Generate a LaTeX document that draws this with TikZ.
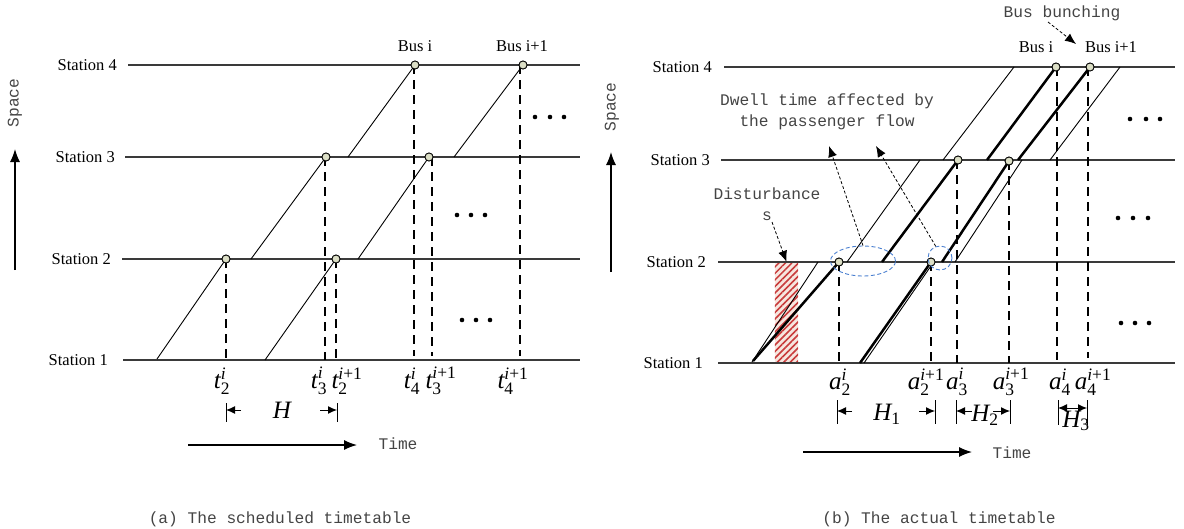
\RequirePackage{fix-cm}
\documentclass[tikz,border=0pt]{standalone}
\usepackage{amsmath}
\usepackage{fontspec}
\setmainfont{Liberation Serif}
\newfontfamily\monof{Liberation Mono}
\usetikzlibrary{arrows.meta,patterns.meta,shapes.geometric}
\definecolor{stopfill}{HTML}{DCDFC6}
\definecolor{linegray}{HTML}{3A3A3A}
\definecolor{txtgray}{HTML}{444444}
\definecolor{ellblue}{HTML}{4A7FD0}
\definecolor{hatchred}{HTML}{C83A3A}
\definecolor{hatchbg}{HTML}{F6E6DF}
\newcommand\lab[3]{$\textit{#1}_{\textup{#2}}^{#3}$}
\begin{document}
\begin{tikzpicture}[x=1pt,y=-1pt,
 stationline/.style={draw=linegray,line width=1.2pt},
 stalabel/.style={anchor=east,font=\fontsize{16.5}{18}\selectfont,inner sep=0pt},
 buslabel/.style={font=\fontsize{16.5}{18}\selectfont,inner sep=0pt},
 monolabel/.style={font=\monof\fontsize{16.2}{21}\selectfont,text=txtgray,inner sep=0pt},
 stopc/.style={circle,draw=black,line width=0.8pt,fill=stopfill,minimum size=8pt,inner sep=0pt},
 sched/.style={draw=black,line width=0.9pt},
 actual/.style={draw=black,line width=2.5pt},
 vdash/.style={draw=black,line width=1.8pt,dash pattern=on 9pt off 6pt},
 mlab/.style={font=\fontsize{25}{27}\selectfont,inner sep=0pt},
 tickl/.style={draw=black,line width=1pt},
 harrow/.style={draw=black,line width=1pt,-{Latex[length=9pt,width=8pt]}},
 bigarrow/.style={draw=black,line width=1.3pt,-{Latex[length=13pt,width=10pt]}},
 dasharrow/.style={draw=black,line width=0.8pt,dash pattern=on 3pt off 2pt,-{Latex[length=11pt,width=9pt]}},
 ell/.style={draw=ellblue,line width=0.9pt,dash pattern=on 4pt off 2.5pt,inner sep=0pt},
 dotc/.style={fill=black}
]
\useasboundingbox (0,0) rectangle (1184,528);

%% ================= LEFT PANEL =================
\node[stalabel] (LS4) at (117,65) {Station 4};
\node[stalabel] (LS3) at (115,157) {Station 3};
\node[stalabel] (LS2) at (111,259) {Station 2};
\node[stalabel] (LS1) at (108,360) {Station 1};
\coordinate (L4a) at (128,65);  \coordinate (L4b) at (580,65);
\coordinate (L3a) at (125,157); \coordinate (L3b) at (580,157);
\coordinate (L2a) at (122,259); \coordinate (L2b) at (580,259);
\coordinate (L1a) at (123,360); \coordinate (L1b) at (580,360);
\draw[stationline] (L4a) -- (L4b);
\draw[stationline] (L3a) -- (L3b);
\draw[stationline] (L2a) -- (L2b);
\draw[stationline] (L1a) -- (L1b);

\coordinate (Lb1s) at (157,359);
\coordinate (Lb2s) at (251,259);
\coordinate (Lb3s) at (348,157);
\coordinate (Lc1s) at (265,360);
\coordinate (Lc2s) at (358,259);
\coordinate (Lc3s) at (454,157);
\coordinate (Ld1) at (226,360);
\coordinate (Ld2) at (325,360);
\coordinate (Ld3) at (336,360);
\coordinate (Ld4) at (414,356);
\coordinate (Ld5) at (432,356);
\coordinate (Ld6) at (520,356);
\coordinate (Ld2t) at (325,157);
\coordinate (Ld5t) at (432,157);
\coordinate (Ld4t) at (414,65);
\coordinate (Ld6t) at (520,65);

\node[stopc] (Li2) at (226,259) {};
\node[stopc] (Li3) at (326,157) {};
\node[stopc] (Li4) at (415,65) {};
\node[stopc] (Lj2) at (336,259) {};
\node[stopc] (Lj3) at (429,157) {};
\node[stopc] (Lj4) at (523,65) {};

\draw[vdash] (Li2.center) -- (Ld1);
\draw[vdash] (Ld2t) -- (Ld2);
\draw[vdash] (Lj2.center) -- (Ld3);
\draw[vdash] (Ld4t) -- (Ld4);
\draw[vdash] (Ld5t) -- (Ld5);
\draw[vdash] (Ld6t) -- (Ld6);

\draw[sched] (Lb1s) -- (Li2.center);
\draw[sched] (Lb2s) -- (Li3.center);
\draw[sched] (Lb3s) -- (Li4.center);
\draw[sched] (Lc1s) -- (Lj2.center);
\draw[sched] (Lc2s) -- (Lj3.center);
\draw[sched] (Lc3s) -- (Lj4.center);
\node[stopc] at (Li2) {};
\node[stopc] at (Li3) {};
\node[stopc] at (Li4) {};
\node[stopc] at (Lj2) {};
\node[stopc] at (Lj3) {};
\node[stopc] at (Lj4) {};

\node[buslabel] (LBi) at (415,46) {Bus i};
\node[buslabel] (LBj) at (522,46) {Bus i+1};

\foreach \x/\y in {535/117,550/117,564/117,457/215,471/215,485/215,462/320,476/320,490/320}
  \fill[dotc] (\x,\y) circle (2.3pt);

\node[mlab] (Lt1) at (222,381) {\lab{t}{2}{\textit{i}}};
\node[mlab] (Lt2) at (319,381) {\lab{t}{3}{\textit{i}}};
\node[mlab] (Lt3) at (347,381) {\lab{t}{2}{\textit{i}\textup{+1}}};
\node[mlab] (Lt4) at (412,381) {\lab{t}{4}{\textit{i}}};
\node[mlab] (Lt5) at (441,381) {\lab{t}{3}{\textit{i}\textup{+1}}};
\node[mlab] (Lt6) at (513,381) {\lab{t}{4}{\textit{i}\textup{+1}}};

\coordinate (LHa1) at (226,403); \coordinate (LHa2) at (226,422);
\coordinate (LHb1) at (337,403); \coordinate (LHb2) at (337,422);
\draw[tickl] (LHa1) -- (LHa2);
\draw[tickl] (LHb1) -- (LHb2);
\coordinate (LHl) at (241,410); \coordinate (LHr) at (320,410);
\coordinate (LHlt) at (226,410); \coordinate (LHrt) at (337,410);
\draw[harrow] (LHl) -- (LHlt);
\draw[harrow] (LHr) -- (LHrt);
\node[mlab] (LH) at (282,410) {$\textit{H}$};

\coordinate (LTa) at (188,445); \coordinate (LTb) at (357,445);
\draw[bigarrow] (LTa) -- (LTb);
\node[monolabel] (LTime) at (398,444) {Time};

\coordinate (LSa) at (15,270); \coordinate (LSb) at (15,149);
\draw[bigarrow] (LSa) -- (LSb);
\node[monolabel,rotate=90] (LSpace) at (15,103) {Space};

\node[monolabel] (CapA) at (280,519) {(a) The scheduled timetable};

%% ================= RIGHT PANEL =================
\node[stalabel] (RS4) at (712,67) {Station 4};
\node[stalabel] (RS3) at (710,160) {Station 3};
\node[stalabel] (RS2) at (706,262) {Station 2};
\node[stalabel] (RS1) at (703,363) {Station 1};
\coordinate (R4a) at (724,67);  \coordinate (R4b) at (1175,67);
\coordinate (R3a) at (721,160); \coordinate (R3b) at (1175,160);
\coordinate (R2a) at (718,262); \coordinate (R2b) at (1175,262);
\coordinate (R1a) at (718,363); \coordinate (R1b) at (1175,363);

% disturbance block
\node[minimum width=23pt,minimum height=101pt,inner sep=0pt] (DR) at (786.5,312.5) {};
\fill[hatchbg] (DR.north west) rectangle (DR.south east);
\fill[pattern={Lines[angle=45,distance=4.6pt,line width=1.5pt]},pattern color=hatchred] (DR.north west) rectangle (DR.south east);

\draw[stationline] (R4a) -- (R4b);
\draw[stationline] (R3a) -- (R3b);
\draw[stationline] (R2a) -- (R2b);
\draw[stationline] (R1a) -- (R1b);

% scheduled (thin) trajectories
\coordinate (Rs1a) at (752,362); \coordinate (Rs1b) at (818,262);
\coordinate (Rs2a) at (847,262); \coordinate (Rs2b) at (920,160);
\coordinate (Rs3a) at (943,160); \coordinate (Rs3b) at (1014,67);
\coordinate (Rs4a) at (864,363); \coordinate (Rs4b) at (933,263);
\coordinate (Rs5a) at (955,262); \coordinate (Rs5b) at (1022,160);
\coordinate (Rs6a) at (1050,160); \coordinate (Rs6b) at (1120,67);
\draw[sched] (Rs1a) -- (Rs1b);
\draw[sched] (Rs2a) -- (Rs2b);
\draw[sched] (Rs3a) -- (Rs3b);
\draw[sched] (Rs4a) -- (Rs4b);
\draw[sched] (Rs5a) -- (Rs5b);
\draw[sched] (Rs6a) -- (Rs6b);

% stops (actual)
\node[stopc] (Ri2) at (839,262) {};
\node[stopc] (Ri3) at (958,160) {};
\node[stopc] (Ri4) at (1056,67) {};
\node[stopc] (Rj2) at (931,262) {};
\node[stopc] (Rj3) at (1009,161) {};
\node[stopc] (Rj4) at (1090,67) {};

% dashed verticals
\coordinate (Rd1) at (839,363);
\coordinate (Rd2) at (931,363);
\coordinate (Rd3) at (957,363);
\coordinate (Rd4) at (1009,363);
\coordinate (Rd5) at (1057,360);
\coordinate (Rd6) at (1088,358);
\coordinate (Rd3t) at (957,160);
\coordinate (Rd5t) at (1057,67);
\coordinate (Rd6t) at (1088,67);
\draw[vdash] (Ri2.center) -- (Rd1);
\draw[vdash] (Rj2.center) -- (Rd2);
\draw[vdash] (Rd3t) -- (Rd3);
\draw[vdash] (Rj3.center) -- (Rd4);
\draw[vdash] (Rd5t) -- (Rd5);
\draw[vdash] (Rd6t) -- (Rd6);

% actual (thick) trajectories
\coordinate (Ra1) at (753,361);
\coordinate (Ra2) at (882,262);
\coordinate (Ra3) at (987,160);
\coordinate (Rb1) at (860,363);
\coordinate (Rb2) at (942,262);
\coordinate (Rb3) at (1018,160);
\draw[actual] (Ra1) -- (Ri2.center);
\draw[actual] (Ra2) -- (Ri3.center);
\draw[actual] (Ra3) -- (Ri4.center);
\draw[actual] (Rb1) -- (Rj2.center);
\draw[actual] (Rb2) -- (Rj3.center);
\draw[actual] (Rb3) -- (Rj4.center);
\node[stopc] at (Ri2) {};
\node[stopc] at (Ri3) {};
\node[stopc] at (Ri4) {};
\node[stopc] at (Rj2) {};
\node[stopc] at (Rj3) {};
\node[stopc] at (Rj4) {};

% dwell ellipses
\node[ell,ellipse,minimum width=65pt,minimum height=30pt] (E1) at (863,261) {};
\node[ell,circle,minimum size=24pt] (E2) at (940,258) {};

\node[monolabel,align=center] (DW) at (827,112) {Dwell time affected by\\the passenger flow};
\coordinate (DWt1) at (829,146);
\coordinate (DWt2) at (876,146);
\draw[dasharrow] (E1.north) -- (DWt1);
\draw[dasharrow] (E2.110) -- (DWt2);

\node[monolabel,align=center] (DIS) at (767,204) {Disturbance\\s};
\coordinate (DISs) at (772,222);
\draw[dasharrow] (DISs) -- (DR.north);

\node[monolabel] (BB) at (1062,13) {Bus bunching};
\coordinate (BBs) at (1048,22);
\coordinate (BBt) at (1076,44);
\draw[dasharrow] (BBs) -- (BBt);

\node[buslabel] (RBi) at (1036,47) {Bus i};
\node[buslabel] (RBj) at (1111,47) {Bus i+1};

\foreach \x/\y in {1130/119,1146/119,1160/119,1118/218,1133/218,1148/218,1121/323,1135/323,1149/323}
  \fill[dotc] (\x,\y) circle (2.3pt);

\node[mlab] (Ra2l) at (840,382) {\lab{a}{2}{\textit{i}}};
\node[mlab] (Rb2l) at (926,382) {\lab{a}{2}{\textit{i}\textup{+1}}};
\node[mlab] (Ra3l) at (957,382) {\lab{a}{3}{\textit{i}}};
\node[mlab] (Rb3l) at (1011,382) {\lab{a}{3}{\textit{i}\textup{+1}}};
\node[mlab] (Ra4l) at (1060,382) {\lab{a}{4}{\textit{i}}};
\node[mlab] (Rb4l) at (1093,382) {\lab{a}{4}{\textit{i}\textup{+1}}};

% H brackets
\foreach \n/\x in {h1/837,h2/935,h3/956,h4/1010}{
  \coordinate (R\n a) at (\x,400); \coordinate (R\n b) at (\x,424);
  \draw[tickl] (R\n a) -- (R\n b);}
\coordinate (Rh5a) at (1058,400); \coordinate (Rh5b) at (1058,425);
\coordinate (Rh6a) at (1087,400); \coordinate (Rh6b) at (1087,425);
\draw[tickl] (Rh5a) -- (Rh5b);
\draw[tickl] (Rh6a) -- (Rh6b);

\coordinate (H1l) at (852,411); \coordinate (H1lt) at (837,411);
\coordinate (H1r) at (919,411); \coordinate (H1rt) at (935,411);
\draw[harrow] (H1l) -- (H1lt);
\draw[harrow] (H1r) -- (H1rt);
\node[mlab] (H1) at (887,414) {$\textit{H}_{\textup{1}}$};

\coordinate (H2l) at (972,411); \coordinate (H2lt) at (956,411);
\coordinate (H2r) at (993,411); \coordinate (H2rt) at (1010,411);
\draw[harrow] (H2l) -- (H2lt);
\draw[harrow] (H2r) -- (H2rt);
\node[mlab] (H2) at (985,415) {$\textit{H}_{\textup{2}}$};

\coordinate (H3m) at (1072,408);
\coordinate (H3lt) at (1058,408); \coordinate (H3rt) at (1087,408);
\draw[harrow] (H3m) -- (H3lt);
\draw[harrow] (H3m) -- (H3rt);
\node[mlab] (H3) at (1076,421) {$\textit{H}_{\textup{3}}$};

\coordinate (RTa) at (803,452); \coordinate (RTb) at (972,452);
\draw[bigarrow] (RTa) -- (RTb);
\node[monolabel] (RTime) at (1012,453) {Time};

\coordinate (RSa) at (611,272); \coordinate (RSb) at (611,152);
\draw[bigarrow] (RSa) -- (RSb);
\node[monolabel,rotate=90] (RSpace) at (612,107) {Space};

\node[monolabel] (CapB) at (939,519) {(b) The actual timetable};
\end{tikzpicture}
\end{document}
